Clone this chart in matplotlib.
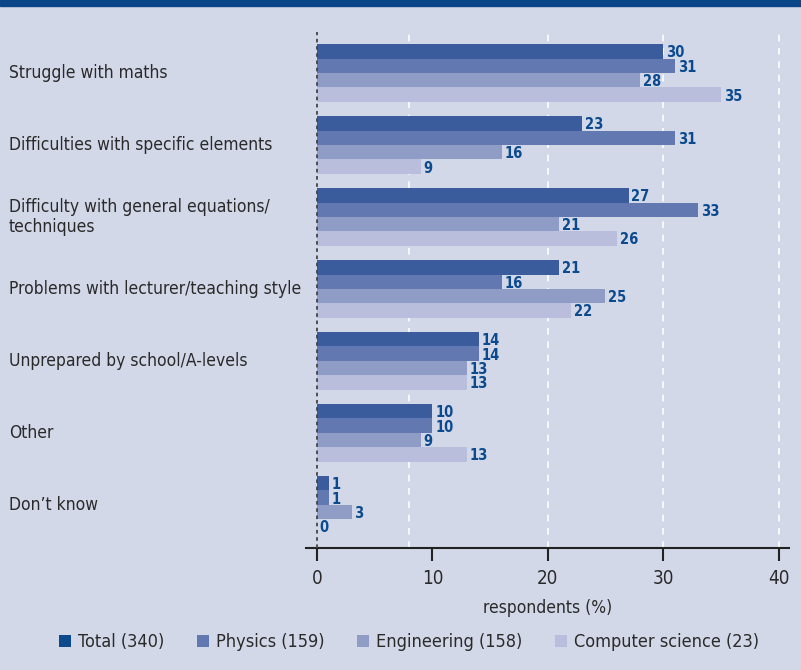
import matplotlib
matplotlib.use('Agg')
import matplotlib.pyplot as plt
import matplotlib.transforms as mtrans
import numpy as np
from matplotlib.patches import Patch

CATEGORIES = ["Struggle with maths",
              "Difficulties with specific elements",
              "Difficulty with general equations/\ntechniques",
              "Problems with lecturer/teaching style",
              "Unprepared by school/A-levels",
              "Other",
              "Don\u2019t know"]
SERIES = ["Total (340)", "Physics (159)", "Engineering (158)", "Computer science (23)"]
TOTAL = [30, 23, 27, 21, 14, 10, 1]
PHYSICS = [31, 31, 33, 16, 14, 10, 1]
ENGINEERING = [28, 16, 21, 25, 13, 9, 3]
COMPSCI = [35, 9, 26, 22, 13, 13, 0]
XTICKS = [0, 10, 20, 30, 40]

BG = '#d3d8e8'
BAR_COLORS = ['#3a5b9c', '#6178b0', '#8f9cc5', '#b8bedb']
LEGEND_COLORS = ['#0d4a8c', '#6178b0', '#8f9cc5', '#b8bedb']
LABEL_BLUE = '#0b4a8e'
TEXT = '#2a2a2a'

# condensed face of DejaVu Sans, close to the narrow original
plt.rcParams['font.family'] = ['DejaVu Sans']
plt.rcParams['font.stretch'] = 'condensed'

fig = plt.figure(figsize=(8.01, 6.70), dpi=100, facecolor=BG)
ax = fig.add_axes([306 / 801, 1 - 548 / 670, (789 - 306) / 801, (548 - 32) / 670])
ax.set_facecolor(BG)

# dark blue band at the top
fig.patches.append(plt.Rectangle((0, 1 - 6 / 670), 1, 6 / 670, transform=fig.transFigure,
                                 color='#0a4587', zorder=5))

values = [TOTAL, PHYSICS, ENGINEERING, COMPSCI]
y = np.arange(len(CATEGORIES))
h = 0.2
for i, vals in enumerate(values):
    pos = y - 1.5 * h + i * h
    ax.barh(pos, vals, height=h, color=BAR_COLORS[i], zorder=3)
    for p, v in zip(pos, vals):
        ax.text(v + 0.25, p + 0.02, str(v), va='center', ha='left', fontsize=10.5,
                fontweight='bold', color=LABEL_BLUE, zorder=4)

# white dashed grid lines and dotted zero line
for gx in [8, 20, 30, 40]:
    ax.axvline(gx, color='white', lw=1.2, ls=(0, (4, 4)), zorder=1)
ax.axvline(0, color='#444444', lw=1.3, ls=(0, (2, 2)), zorder=4)

ax.set_xlim(-0.95, 40.9)
ax.set_ylim(6.6, -0.57)
ax.set_yticks([])
ax.set_xticks(XTICKS)
ax.tick_params(axis='x', direction='out', length=9, width=1.5, color='#222222',
               labelsize=13.5, labelcolor=TEXT, pad=6)
for s in ['top', 'right', 'left']:
    ax.spines[s].set_visible(False)
ax.spines['bottom'].set_linewidth(1.5)
ax.spines['bottom'].set_color('#222222')
ax.set_xlabel('respondents (%)', fontsize=12.5, color=TEXT, labelpad=8)

trans = mtrans.blended_transform_factory(fig.transFigure, ax.transData)
for yi, cat in zip(y, CATEGORIES):
    ax.text(9 / 801, yi, cat, transform=trans,
            ha='left', va='center', fontsize=12.5, color=TEXT, linespacing=1.12)

handles = [Patch(facecolor=c, label=s) for c, s in zip(LEGEND_COLORS, SERIES)]
fig.legend(handles=handles, loc='center', bbox_to_anchor=(409 / 801, 1 - 642 / 670), ncol=4,
           frameon=False, fontsize=13, handlelength=0.66, handleheight=0.66,
           handletextpad=0.4, columnspacing=1.8, labelcolor=TEXT)

fig.savefig('out.png', dpi=100, facecolor=BG)
